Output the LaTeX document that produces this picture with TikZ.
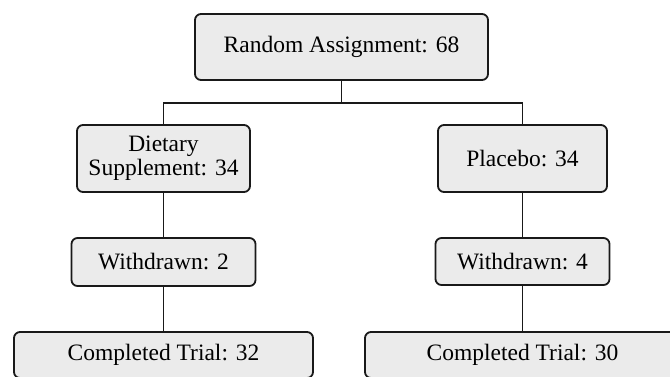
\documentclass[tikz,border=0pt]{standalone}
\usepackage{fontspec}
\setmainfont{Liberation Serif}
\begin{document}
\begin{tikzpicture}[x=1pt,y=-1pt,
  box/.style={draw=black!90, line width=1.8pt, fill=black!8, rounded corners=6pt,
    align=center, inner sep=0pt, font=\fontsize{23.5}{24}\selectfont},
  link/.style={draw=black!90, line width=1.8pt}]
\useasboundingbox (0,0) rectangle (670,376);
\node[box, minimum width=293pt, minimum height=66pt] (top) at (341.5,47) {Random Assignment: 68};
\node[box, minimum width=173pt, minimum height=67pt] (diet) at (163.5,158.5) {Dietary\\Supplement: 34};
\node[box, minimum width=169pt, minimum height=67pt] (plac) at (522.5,158.5) {Placebo: 34};
\node[box, minimum width=184pt, minimum height=48pt] (wl) at (163.5,262) {Withdrawn: 2};
\node[box, minimum width=174pt, minimum height=47pt] (wr) at (522.5,261.5) {Withdrawn: 4};
\node[box, minimum width=299pt, minimum height=46pt] (cl) at (163.5,355) {Completed Trial: 32};
\node[box, minimum width=315pt, minimum height=46pt] (cr) at (522.5,355) {Completed Trial: 30};
\coordinate (bar) at (341.5,103);
\draw[link] (top.south) -- (bar);
\draw[link] (diet.north) |- (bar) -| (plac.north);
\draw[link] (diet.south) -- (wl.north);
\draw[link] (wl.south) -- (cl.north);
\draw[link] (plac.south) -- (wr.north);
\draw[link] (wr.south) -- (cr.north);
\end{tikzpicture}
\end{document}
